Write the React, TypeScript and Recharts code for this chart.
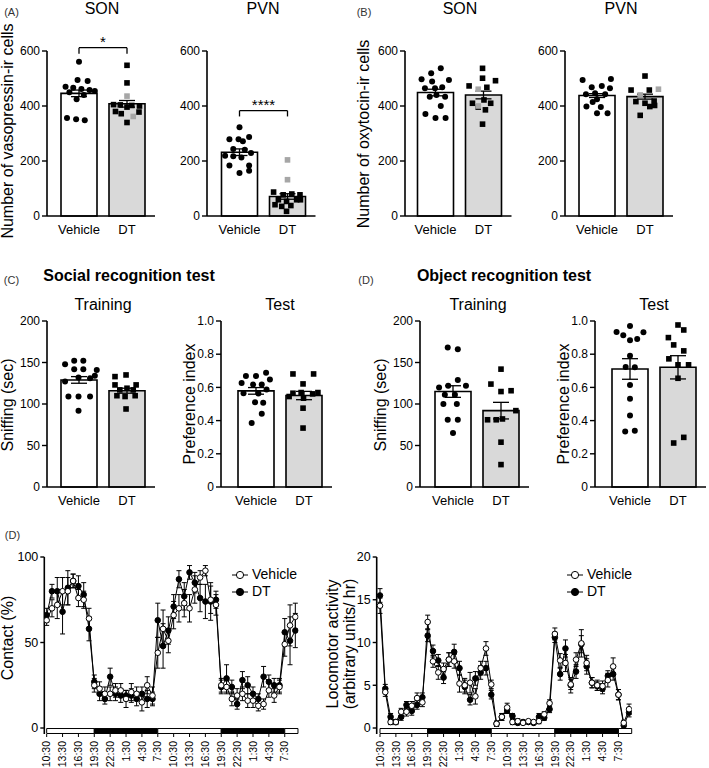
import React from 'react';
import {
  ComposedChart, Bar, Cell, ErrorBar, Scatter, XAxis, YAxis,
  ReferenceLine, ReferenceArea, Line, Legend,
} from 'recharts';

const FONT = '"Liberation Sans", Arial, Helvetica, sans-serif';

const groups = ['Vehicle', 'DT'];
const barFills = ['#ffffff', '#d9d9d9'];
const countTicks = [0, 200, 400, 600];
const sniffTicks = [0, 50, 100, 150, 200];
const indexTicks = [0, 0.2, 0.4, 0.6, 0.8, 1.0];

// (A) vasopressin-ir cells, SON
const avpSonMean = [446, 408];
const avpSonSem = [12, 12];
const avpSonVeh = [561, 495, 491, 470, 466, 462, 458, 455, 450, 440, 425, 356, 352, 348];
const avpSonVehJit = [0, -0.03, 0.18, -0.28, -0.12, 0.05, 0.22, 0.33, -0.2, 0.1, -0.05, -0.25, -0.06, 0.12];
const avpSonDt = [548, 484, 405, 404, 402, 400, 396, 380, 378, 372, 340];
const avpSonDtJit = [0, 0, -0.28, -0.14, 0.1, 0.26, 0, -0.24, 0.25, -0.12, 0];
const avpSonGrey = [436, 362];
const avpSonGreyJit = [0, 0.13];
const avpSonBracket = [612, 590];

// (A) vasopressin-ir cells, PVN
const avpPvnMean = [232, 71];
const avpPvnSem = [12, 10];
const avpPvnVeh = [323, 279, 279, 272, 287, 244, 241, 219, 217, 213, 229, 184, 184, 156, 165];
const avpPvnVehJit = [0, -0.21, -0.02, 0.07, 0.2, -0.13, 0.11, -0.3, -0.13, 0.04, 0.24, -0.21, 0.2, 0, 0.2];
const avpPvnDt = [87, 77, 80, 77, 59, 53, 59, 41, 35, 38, 59, 17];
const avpPvnDtJit = [-0.29, -0.09, 0.09, 0.26, -0.19, -0.02, 0.19, -0.26, -0.12, 0.07, 0.27, -0.02];
const avpPvnGrey = [204, 132];
const avpPvnGreyJit = [0, 0];
const avpPvnBracket = [383, 362];

// (B) oxytocin-ir cells, SON
const oxtSonMean = [449, 440];
const oxtSonSem = [12, 14];
const oxtSonVeh = [537, 519, 497, 489, 495, 465, 465, 468, 434, 434, 440, 371, 400, 356, 356];
const oxtSonVehJit = [0.11, -0.09, -0.29, -0.07, 0.28, -0.22, -0.01, 0.14, -0.12, 0.2, 0.02, -0.21, 0.11, 0, 0.21];
const oxtSonDt = [537, 501, 492, 473, 468, 410, 422, 410, 396, 386, 334];
const oxtSonDtJit = [-0.02, -0.02, 0.25, -0.3, 0.07, -0.23, 0.01, 0.15, -0.11, 0.04, -0.02];
const oxtSonGrey = [461, 400];
const oxtSonGreyJit = [-0.11, -0.11];

// (B) oxytocin-ir cells, PVN
const oxtPvnMean = [438, 434];
const oxtPvnSem = [7, 9];
const oxtPvnVeh = [495, 498, 468, 473, 465, 443, 446, 443, 425, 398, 396, 374, 374, 415];
const oxtPvnVehJit = [-0.3, 0.29, -0.11, 0.1, 0.27, -0.23, -0.04, 0.17, 0, -0.22, 0.08, 0, 0.22, -0.09];
const oxtPvnDt = [509, 458, 458, 418, 416, 410, 402, 398, 366];
const oxtPvnDtJit = [0, -0.29, 0.09, 0.19, -0.19, 0, 0.2, 0.1, -0.1];
const oxtPvnGrey = [461, 440];
const oxtPvnGreyJit = [0.28, -0.1];

// (C) social recognition
const socTrainMean = [129, 116];
const socTrainSem = [4, 3];
const socTrainVeh = [148, 152, 152, 142, 142, 141, 127, 132, 131, 134, 109, 109, 109, 92];
const socTrainVehJit = [-0.29, -0.1, 0.09, -0.1, 0.09, 0.37, -0.29, -0.01, 0.23, 0.33, -0.22, -0.01, 0.23, -0.01];
const socTrainDt = [133, 135, 123, 123, 117, 119, 117, 110, 109, 110, 94];
const socTrainDtJit = [-0.25, -0.02, -0.25, 0.19, -0.15, 0, 0.13, -0.21, -0.04, 0.17, -0.02];

const socTestMean = [0.579, 0.551];
const socTestSem = [0.02, 0.025];
const socTestVeh = [0.669, 0.669, 0.689, 0.627, 0.617, 0.617, 0.647, 0.565, 0.563, 0.587, 0.511, 0.507, 0.385, 0.441];
const socTestVehJit = [-0.21, 0, 0.21, -0.3, -0.06, 0.12, 0.29, -0.26, 0.05, 0.22, -0.02, 0.15, -0.09, 0.12];
const socTestDt = [0.681, 0.681, 0.621, 0.565, 0.569, 0.561, 0.569, 0.545, 0.535, 0.475, 0.355];
const socTestDtJit = [-0.23, 0.2, -0.02, -0.23, -0.06, 0.18, 0.29, -0.31, -0.01, -0.02, -0.02];

// (D) object recognition
const objTrainMean = [115, 92];
const objTrainSem = [7, 10];
const objTrainVeh = [168, 166, 120, 122, 129, 122, 111, 111, 100, 100, 81, 81, 65];
const objTrainVehJit = [-0.11, 0.1, -0.29, -0.1, 0.1, 0.27, -0.17, 0.04, -0.2, 0.08, -0.11, 0.1, 0];
const objTrainDt = [142, 124, 115, 116, 92, 81, 81, 82, 54, 27];
const objTrainDtJit = [0, -0.21, 0, 0.21, 0.31, -0.28, -0.1, 0.03, 0, 0];

const objTestMean = [0.711, 0.721];
const objTestSem = [0.062, 0.07];
const objTestVeh = [0.97, 0.934, 0.914, 0.884, 0.892, 0.932, 0.79, 0.723, 0.721, 0.615, 0.531, 0.431, 0.335, 0.339];
const objTestVehJit = [0, -0.28, -0.14, 0, 0.15, 0.28, 0, -0.09, 0.1, 0, 0, 0, -0.1, 0.1];
const objTestDt = [0.976, 0.946, 0.9, 0.856, 0.82, 0.772, 0.736, 0.736, 0.655, 0.265, 0.299];
const objTestDtJit = [0, 0.12, -0.2, -0.09, 0.12, -0.19, 0, 0.22, 0, -0.09, 0.12];

// (D) hourly time course, 10:30 day 1 onward
const timeTicks = [0, 3, 6, 9, 12, 15, 18, 21, 24, 27, 30, 33, 36, 39, 42, 45];
const timeLabels = ['10:30', '13:30', '16:30', '19:30', '22:30', '1:30', '4:30', '7:30',
  '10:30', '13:30', '16:30', '19:30', '22:30', '1:30', '4:30', '7:30'];
const phaseStart = [0, 9, 21, 33, 45];
const phaseEnd = [9, 21, 33, 45, 47.5];
const phaseDark = [false, true, false, true, false];

const contactVeh = [63, 70, 72, 80, 80, 86, 76, 75, 64, 25, 23, 20, 20, 22, 22, 17, 21, 20, 15, 25, 19,
  44, 58, 51, 66, 70, 73, 70, 81, 88, 92, 75, 72, 25, 24, 17, 19, 20, 16, 16, 13, 14, 22, 19, 24, 49, 60, 65];
const contactVehSem = [3, 5, 8, 8, 8, 4, 5, 5, 6, 4, 4, 4, 4, 4, 4, 5, 5, 4, 5, 5, 5,
  9, 11, 7, 8, 8, 8, 8, 8, 4, 3, 8, 6, 4, 4, 4, 4, 4, 4, 4, 3, 3, 4, 4, 4, 7, 12, 8];
const contactDt = [66, 80, 80, 68, 82, 86, 83, 78, 58, 27, 20, 17, 30, 20, 19, 19, 19, 17, 20, 17, 17,
  63, 48, 57, 71, 87, 77, 91, 85, 76, 74, 74, 75, 24, 29, 24, 14, 28, 25, 20, 17, 30, 27, 25, 25, 56, 51, 57];
const contactDtSem = [4, 4, 8, 13, 10, 4, 6, 7, 7, 4, 4, 3, 5, 4, 4, 3, 4, 4, 4, 5, 4,
  10, 13, 8, 7, 5, 8, 4, 6, 8, 10, 11, 5, 4, 8, 4, 3, 5, 5, 4, 3, 6, 4, 4, 4, 8, 14, 10];

const locoVeh = [14.3, 4.2, 0.7, 0.7, 1.9, 1.9, 2.6, 3.5, 3.0, 12.4, 7.8, 6.5, 6.9, 8.0, 7.8, 5.2, 5.0, 5.3, 3.7, 7.0, 9.3,
  5.1, 0.5, 1.3, 2.4, 0.7, 0.8, 0.6, 0.8, 0.7, 0.8, 1.6, 2.9, 11.0, 7.9, 7.6, 5.1, 8.0, 9.9, 7.6, 5.3, 5.0, 4.9, 5.6, 7.2, 3.9, 0.6, 2.2];
const locoVehSem = [0.9, 0.5, 0.3, 0.3, 0.4, 0.5, 0.5, 0.6, 0.5, 0.8, 0.7, 0.8, 0.7, 0.8, 0.8, 1.0, 0.8, 1.2, 0.9, 0.8, 0.8,
  0.5, 0.3, 0.4, 0.5, 0.3, 0.3, 0.2, 0.2, 0.2, 0.3, 0.3, 0.4, 0.7, 0.8, 1.0, 0.6, 0.8, 1.6, 0.9, 0.6, 0.6, 0.6, 0.8, 1.0, 0.6, 0.3, 0.6];
const locoDt = [15.5, 4.6, 1.3, 0.7, 1.3, 2.7, 2.0, 2.7, 3.6, 10.8, 9.0, 7.9, 5.9, 8.0, 8.9, 7.0, 4.8, 3.3, 5.8, 6.5, 7.0,
  3.9, 0.5, 1.3, 2.1, 1.4, 0.6, 0.7, 0.7, 0.6, 1.3, 1.2, 2.2, 10.6, 6.3, 9.3, 5.0, 6.6, 9.8, 7.2, 5.3, 4.9, 4.6, 6.1, 6.3, 3.9, 0.3, 1.8];
const locoDtSem = [0.8, 0.5, 0.4, 0.2, 0.4, 0.4, 0.5, 0.5, 0.5, 0.7, 0.7, 0.7, 0.7, 0.8, 0.9, 0.8, 0.8, 0.6, 0.8, 0.8, 0.8,
  0.5, 0.3, 0.4, 0.4, 0.3, 0.2, 0.2, 0.2, 0.2, 0.4, 0.3, 0.4, 0.6, 0.7, 1.0, 0.9, 0.8, 1.0, 0.9, 0.6, 0.5, 0.6, 0.6, 0.7, 0.6, 0.3, 0.5];

const YW = 42;
const TOPM = 28;
const XH = 30;
const BAND = 48;
const PADR = 4;

const dotCircle = (props: any) => <circle cx={props.cx} cy={props.cy} r={3} fill="#000" />;
const dotSquare = (props: any) => (
  <rect x={props.cx - 2.8} y={props.cy - 2.8} width={5.6} height={5.6} fill="#000" />
);
const dotGrey = (props: any) => (
  <rect x={props.cx - 2.8} y={props.cy - 2.8} width={5.6} height={5.6} fill="#a6a6a6" />
);

type PanelProps = {
  axisX: number; topY: number; zeroY: number; yMax: number; yTicks: number[]; decimals?: boolean; padL: number;
  mean: number[]; sem: number[]; veh: number[]; vehJit: number[]; dt: number[]; dtJit: number[];
  grey?: number[]; greyJit?: number[]; bracket?: number[]; stars?: string;
};

function BarPanel(p: PanelProps) {
  const plotW = p.padL + 2 * BAND + PADR;
  const plotH = p.zeroY - p.topY;
  const width = YW + plotW + 2;
  const height = TOPM + plotH + XH;
  const barData = groups.map((g, i) => ({ group: g, mean: p.mean[i], sem: p.sem[i] }));
  const vehDots = p.veh.map((v, i) => ({ x: 0.5 + p.vehJit[i], y: v }));
  const dtDots = p.dt.map((v, i) => ({ x: 1.5 + p.dtJit[i], y: v }));
  const greyDots = (p.grey || []).map((v, i) => ({ x: 1.5 + (p.greyJit || [])[i], y: v }));
  const fmt = (v: number) => (p.decimals ? (v === 0 ? '0' : v.toFixed(1)) : String(v));
  const lineProps = { xAxisId: 'num', stroke: '#000', strokeWidth: 1.3, ifOverflow: 'visible' as const };

  return (
    <div style={{ position: 'absolute', left: p.axisX - YW, top: p.topY - TOPM }}>
      <ComposedChart width={width} height={height} data={barData}
        margin={{ top: TOPM, right: 2, bottom: 0, left: 0 }}>
        <XAxis xAxisId="cat" dataKey="group" type="category" padding={{ left: p.padL, right: PADR }}
          height={XH} tickLine={false} axisLine={{ stroke: '#000', strokeWidth: 1.6 }}
          tick={{ fill: '#000', fontSize: 13 }} tickMargin={3} interval={0} />
        <XAxis xAxisId="num" dataKey="x" type="number" domain={[0, 2]} allowDataOverflow hide
          padding={{ left: p.padL, right: PADR }} />
        <YAxis width={YW} domain={[0, p.yMax]} ticks={p.yTicks} tickFormatter={fmt} interval={0}
          axisLine={{ stroke: '#000', strokeWidth: 1.6 }} tickLine={{ stroke: '#000', strokeWidth: 1.4 }}
          tickSize={5} tickMargin={2} tick={{ fill: '#000', fontSize: 12 }} />
        <Bar xAxisId="cat" dataKey="mean" barSize={36} stroke="#000" strokeWidth={1.6} isAnimationActive={false}>
          {barData.map((d, i) => <Cell key={d.group} fill={barFills[i]} />)}
          <ErrorBar dataKey="sem" width={8} stroke="#000" strokeWidth={1.3} direction="y" />
        </Bar>
        <Scatter xAxisId="num" data={vehDots} dataKey="y" shape={dotCircle} isAnimationActive={false} />
        <Scatter xAxisId="num" data={dtDots} dataKey="y" shape={dotSquare} isAnimationActive={false} />
        {p.grey && (
          <Scatter xAxisId="num" data={greyDots} dataKey="y" shape={dotGrey} isAnimationActive={false} />
        )}
        {p.bracket && (
          <ReferenceLine {...lineProps}
            segment={[{ x: 0.5, y: p.bracket[0] }, { x: 1.5, y: p.bracket[0] }]}
            label={{ value: p.stars, position: 'top', offset: 1, fill: '#000', fontSize: 15 }} />
        )}
        {p.bracket && (
          <ReferenceLine {...lineProps} segment={[{ x: 0.5, y: p.bracket[0] }, { x: 0.5, y: p.bracket[1] }]} />
        )}
        {p.bracket && (
          <ReferenceLine {...lineProps} segment={[{ x: 1.5, y: p.bracket[0] }, { x: 1.5, y: p.bracket[1] }]} />
        )}
      </ComposedChart>
    </div>
  );
}

const legendOrder = ['Vehicle', 'DT'];

function TimeLegend(props: any) {
  const items = [...(props.payload || [])].sort(
    (a: any, b: any) => legendOrder.indexOf(a.value) - legendOrder.indexOf(b.value));
  return (
    <div style={{ fontSize: 14, lineHeight: '17px', color: '#000', fontFamily: FONT }}>
      {items.map((e: any) => (
        <div key={e.value} style={{ display: 'flex', alignItems: 'center', whiteSpace: 'nowrap' }}>
          <svg width={16} height={10}>
            <line x1={0} y1={5} x2={16} y2={5} stroke="#000" strokeWidth={1} />
            <circle cx={8} cy={5} r={3.6} fill={e.value === 'DT' ? '#000' : '#fff'} stroke="#000" strokeWidth={1} />
          </svg>
          <span style={{ marginLeft: 4 }}>{e.value}</span>
        </div>
      ))}
    </div>
  );
}

function TimeTick(props: any) {
  const { x, y, payload } = props;
  const label = timeLabels[timeTicks.indexOf(payload.value)];
  return (
    <text x={x} y={y} transform={`rotate(-90 ${x} ${y})`} textAnchor="end" dy="0.35em"
      fontSize={10.5} fill="#000" fontFamily={FONT}>{label}</text>
  );
}

type TimeProps = {
  left: number; top: number; width: number; yw: number; mr: number; xDomain: number[];
  yDomain: number[]; yTicks: number[]; strip: number[];
  veh: number[]; vehSem: number[]; dt: number[]; dtSem: number[]; legendLeft: number; legendTop: number;
};

function TimePanel(p: TimeProps) {
  const data = p.veh.map((v, i) => ({ h: i, veh: v, vehSem: p.vehSem[i], dt: p.dt[i], dtSem: p.dtSem[i] }));
  return (
    <div style={{ position: 'absolute', left: p.left, top: p.top }}>
      <ComposedChart width={p.width} height={768 - p.top} data={data}
        margin={{ top: 557 - p.top, right: p.mr, bottom: 0, left: 0 }}>
        <XAxis dataKey="h" type="number" domain={p.xDomain} allowDataOverflow ticks={timeTicks} interval={0}
          height={34} axisLine={false} tickLine={{ stroke: '#000', strokeWidth: 1 }} tickSize={3}
          tickMargin={4} tick={<TimeTick />} />
        <YAxis width={p.yw} domain={p.yDomain} allowDataOverflow ticks={p.yTicks} interval={0}
          axisLine={{ stroke: '#000', strokeWidth: 1.6 }} tickLine={{ stroke: '#000', strokeWidth: 1.4 }}
          tickSize={4} tickMargin={2} tick={{ fill: '#000', fontSize: 12.5 }} />
        {phaseStart.map((s, i) => (
          <ReferenceArea key={s} x1={s} x2={phaseEnd[i]} y1={p.strip[0]} y2={p.strip[1]} ifOverflow="visible"
            fill={phaseDark[i] ? '#000' : '#fff'} fillOpacity={1} stroke="#000" strokeWidth={1} />
        ))}
        <Line dataKey="dt" name="DT" type="linear" stroke="#000" strokeWidth={1} isAnimationActive={false}
          dot={{ r: 2.8, fill: '#000', stroke: '#000', strokeWidth: 1 }} activeDot={false}>
          <ErrorBar dataKey="dtSem" width={2.5} stroke="#000" strokeWidth={1} direction="y" />
        </Line>
        <Line dataKey="veh" name="Vehicle" type="linear" stroke="#000" strokeWidth={1} isAnimationActive={false}
          dot={{ r: 2.8, fill: '#fff', stroke: '#000', strokeWidth: 1 }} activeDot={false}>
          <ErrorBar dataKey="vehSem" width={2.5} stroke="#000" strokeWidth={1} direction="y" />
        </Line>
        <Legend layout="vertical" align="center" verticalAlign="middle" content={<TimeLegend />}
          wrapperStyle={{ left: p.legendLeft - p.left, top: p.legendTop - p.top, width: 90 }} />
      </ComposedChart>
    </div>
  );
}

function Txt(props: { x: number; y: number; size: number; bold?: boolean; color?: string; children: React.ReactNode }) {
  return (
    <div style={{
      position: 'absolute', left: props.x, top: props.y, transform: 'translate(-50%, -50%)',
      fontSize: props.size, fontWeight: props.bold ? 700 : 400, color: props.color || '#000',
      whiteSpace: 'nowrap', lineHeight: 1,
    }}>{props.children}</div>
  );
}

function VTxt(props: { x: number; y: number; size: number; children: React.ReactNode }) {
  return (
    <div style={{
      position: 'absolute', left: props.x, top: props.y, transform: 'translate(-50%, -50%) rotate(-90deg)',
      fontSize: props.size, color: '#000', whiteSpace: 'nowrap', lineHeight: 1.05, textAlign: 'center',
    }}>{props.children}</div>
  );
}

export default function App() {
  return (
    <div style={{
      position: 'absolute', left: 0, top: 0, width: 709, height: 768, background: '#fff',
      fontFamily: FONT, overflow: 'hidden',
    }}>
      <Txt x={11.5} y={12} size={11} color="#333">(A)</Txt>
      <Txt x={364} y={12} size={11} color="#333">(B)</Txt>
      <Txt x={11.5} y={280} size={11} color="#333">(C)</Txt>
      <Txt x={366} y={280} size={11} color="#333">(D)</Txt>
      <Txt x={12.5} y={535} size={11} color="#333">(D)</Txt>

      <Txt x={102} y={9} size={16}>SON</Txt>
      <Txt x={263} y={9} size={16}>PVN</Txt>
      <Txt x={460} y={9} size={16}>SON</Txt>
      <Txt x={621} y={9} size={16}>PVN</Txt>

      <Txt x={129} y={276} size={16} bold>Social recognition test</Txt>
      <Txt x={504} y={276} size={16} bold>Object recognition test</Txt>
      <Txt x={103} y={305} size={16}>Training</Txt>
      <Txt x={280} y={305} size={16}>Test</Txt>
      <Txt x={478} y={305} size={16}>Training</Txt>
      <Txt x={654} y={305} size={16}>Test</Txt>

      <VTxt x={8} y={131} size={16}>Number of vasopressin-ir cells</VTxt>
      <VTxt x={364} y={134} size={16}>Number of oxytocin-ir cells</VTxt>
      <VTxt x={8} y={405} size={16}>Sniffing (sec)</VTxt>
      <VTxt x={190} y={404} size={16}>Preference index</VTxt>
      <VTxt x={381} y={405} size={16}>Sniffing (sec)</VTxt>
      <VTxt x={564} y={404} size={16}>Preference index</VTxt>
      <VTxt x={8} y={638} size={16}>Contact (%)</VTxt>
      <VTxt x={342} y={644} size={16}>Locomotor activity<br />(arbitrary units/ hr)</VTxt>

      <BarPanel axisX={46.5} topY={51} zeroY={216} yMax={600} yTicks={countTicks} padL={8}
        mean={avpSonMean} sem={avpSonSem} veh={avpSonVeh} vehJit={avpSonVehJit} dt={avpSonDt} dtJit={avpSonDtJit}
        grey={avpSonGrey} greyJit={avpSonGreyJit} bracket={avpSonBracket} stars="*" />
      <BarPanel axisX={207} topY={51} zeroY={216} yMax={600} yTicks={countTicks} padL={8.5}
        mean={avpPvnMean} sem={avpPvnSem} veh={avpPvnVeh} vehJit={avpPvnVehJit} dt={avpPvnDt} dtJit={avpPvnDtJit}
        grey={avpPvnGrey} greyJit={avpPvnGreyJit} bracket={avpPvnBracket} stars="****" />
      <BarPanel axisX={405} topY={51} zeroY={216} yMax={600} yTicks={countTicks} padL={6.5}
        mean={oxtSonMean} sem={oxtSonSem} veh={oxtSonVeh} vehJit={oxtSonVehJit} dt={oxtSonDt} dtJit={oxtSonDtJit}
        grey={oxtSonGrey} greyJit={oxtSonGreyJit} />
      <BarPanel axisX={565} topY={51} zeroY={216} yMax={600} yTicks={countTicks} padL={8}
        mean={oxtPvnMean} sem={oxtPvnSem} veh={oxtPvnVeh} vehJit={oxtPvnVehJit} dt={oxtPvnDt} dtJit={oxtPvnDtJit}
        grey={oxtPvnGrey} greyJit={oxtPvnGreyJit} />

      <BarPanel axisX={47} topY={321} zeroY={487} yMax={200} yTicks={sniffTicks} padL={8}
        mean={socTrainMean} sem={socTrainSem} veh={socTrainVeh} vehJit={socTrainVehJit}
        dt={socTrainDt} dtJit={socTrainDtJit} />
      <BarPanel axisX={221} topY={321} zeroY={487} yMax={1} yTicks={indexTicks} decimals padL={11}
        mean={socTestMean} sem={socTestSem} veh={socTestVeh} vehJit={socTestVehJit}
        dt={socTestDt} dtJit={socTestDtJit} />
      <BarPanel axisX={420} topY={321} zeroY={487} yMax={200} yTicks={sniffTicks} padL={9}
        mean={objTrainMean} sem={objTrainSem} veh={objTrainVeh} vehJit={objTrainVehJit}
        dt={objTrainDt} dtJit={objTrainDtJit} />
      <BarPanel axisX={595} topY={321} zeroY={487} yMax={1} yTicks={indexTicks} decimals padL={11}
        mean={objTestMean} sem={objTestSem} veh={objTestVeh} vehJit={objTestVehJit}
        dt={objTestDt} dtJit={objTestDtJit} />

      <TimePanel left={0} top={530} width={310} yw={44.3} mr={11.5} xDomain={[-0.45, 47.6]}
        yDomain={[-3.5, 100]} yTicks={[0, 50, 100]} strip={[-3.2, -0.3]}
        veh={contactVeh} vehSem={contactVehSem} dt={contactDt} dtSem={contactDtSem}
        legendLeft={232} legendTop={566} />
      <TimePanel left={355} top={530} width={290} yw={21.7} mr={13.3} xDomain={[-0.62, 47.5]}
        yDomain={[-0.7, 20]} yTicks={[0, 5, 10, 15, 20]} strip={[-0.64, -0.06]}
        veh={locoVeh} vehSem={locoVehSem} dt={locoDt} dtSem={locoDtSem}
        legendLeft={567} legendTop={566} />
    </div>
  );
}
